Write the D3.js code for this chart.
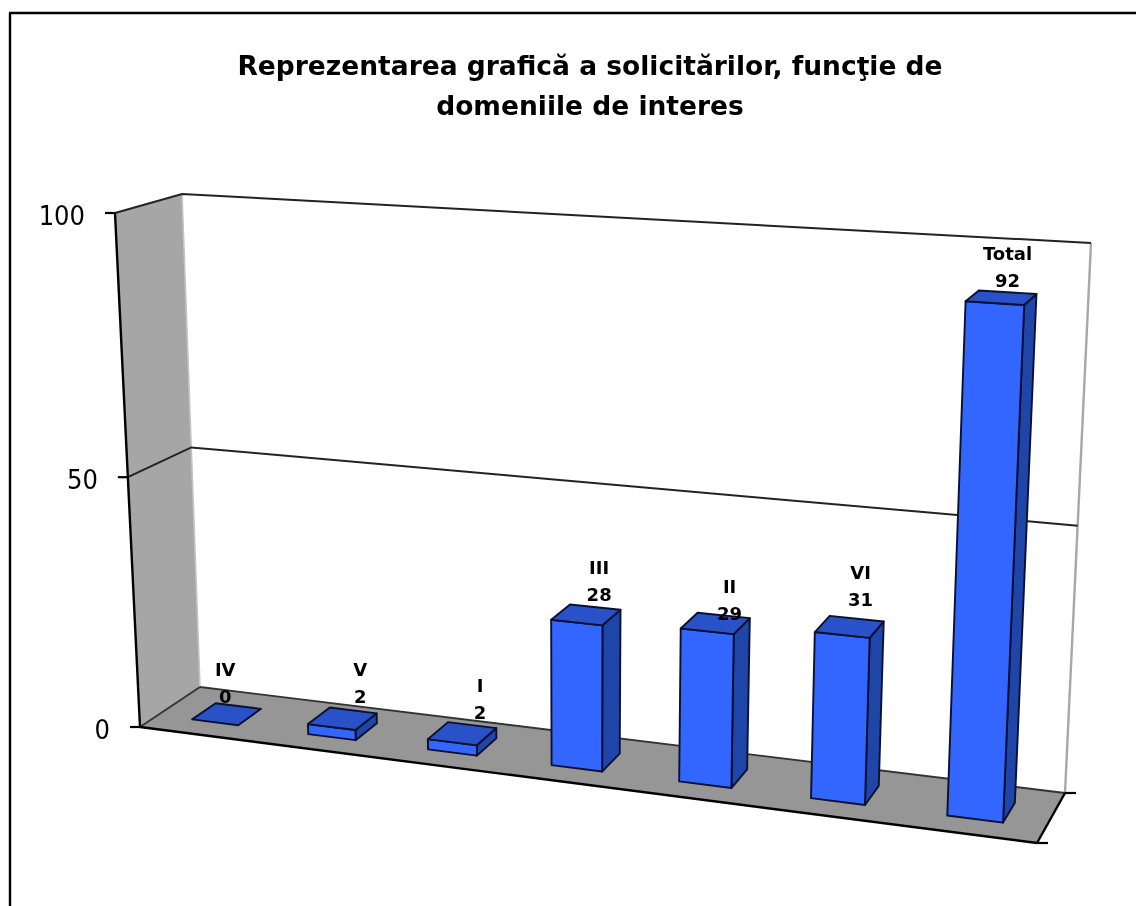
<!DOCTYPE html>
<html><head><meta charset="utf-8">
<script src="https://cdn.jsdelivr.net/npm/d3@7"></script>
<style>html,body{margin:0;padding:0;background:#fff;overflow:hidden}svg{display:block;filter:blur(.5px)}
text{font-family:"DejaVu Sans",sans-serif}</style>
</head><body><div id="c"></div>
<script>
const categories=["IV","V","I","III","II","VI","Total"];
const values=[0,2,2,28,29,31,92];
const yTicks=[0,50,100];
const titleLines=["Reprezentarea grafică a solicitărilor, funcţie de","domeniile de interes"];

const W=1136,H=906;
const labelNudge=[[-13,-3],[7,-7],[8,-6],[4,-6],[6,5],[4,-13],[0,-5]];
const C={ // projected corners of the 3D box: F/B front/back, L/R left/right, 0/1 floor/top
 FL0:[140,727],BL0:[200,687],BR0:[1065,793],FR0:[1037,843],
 FL1:[115,213],BL1:[182,194],BR1:[1091,243],FR1:[1062,269]};
const perspective=1.119;
const band=d3.scaleBand().domain(categories).range([0,1]).paddingInner(.6).paddingOuter(.3);
const warp=t=>t/(perspective-(perspective-1)*t);
const heightFrac=d3.scaleLinear().domain(yTicks).range([0,.486,1]);
const lerp=(a,b,k)=>[a[0]+(b[0]-a[0])*k,a[1]+(b[1]-a[1])*k];
function project(t,z,v){
 const u=warp(t),h=heightFrac(v);
 const f0=lerp(C.FL0,C.FR0,u),b0=lerp(C.BL0,C.BR0,u),f1=lerp(C.FL1,C.FR1,u),b1=lerp(C.BL1,C.BR1,u);
 return lerp(lerp(f0,b0,z),lerp(f1,b1,z),h);
}
const svg=d3.select("#c").append("svg").attr("width",W).attr("height",H);
svg.append("rect").attr("width",W).attr("height",H).attr("fill","#fff");
const line=d3.line();
const poly=(pts,fill,stroke,sw)=>svg.append("path").attr("d",line(pts)+"Z").attr("fill",fill).attr("stroke",stroke||"none").attr("stroke-width",sw||0).attr("stroke-linejoin","round");
const seg=(a,b,stroke,sw)=>svg.append("path").attr("d",line([a,b])).attr("fill","none").attr("stroke",stroke).attr("stroke-width",sw);

// chart frame (only top and left reach the picture)
seg([10,H],[10,13],"#000",2.4);seg([9,13],[W,13],"#000",2.4);

// walls and floor
poly([project(0,0,0),project(0,1,0),project(0,1,100),project(0,0,100)],"#a6a6a6");
poly([project(0,1,0),project(1,1,0),project(1,0,0),project(0,0,0)],"#969696");
seg(project(0,1,0),project(0,1,100),"#c4c4c4",1.6);
seg(project(1,1,0),project(1,1,100),"#a8a8a8",2.4);
// gridlines
yTicks.slice(1).forEach(v=>{
 const p=[project(0,0,v),project(0,1,v),project(1,1,v)];
 svg.append("path").attr("d",line(p)).attr("fill","none").attr("stroke","#222").attr("stroke-width",2);
});
seg(project(0,1,0),project(1,1,0),"#333",1.9);
seg(project(0,0,0),project(0,1,0),"#333",1.8);
seg(project(0,0,0),project(1,0,0),"#000",2.4);
seg(project(1,0,0),project(1,1,0),"#000",2.4);
seg(project(0,0,0),project(0,0,100),"#000",2.4);

// ticks + tick labels
yTicks.forEach(v=>{
 const p=project(0,0,v);
 seg([p[0]-10,p[1]],p,"#000",2.2);
 svg.append("text").attr("x",p[0]-30).attr("y",p[1]+12).attr("text-anchor","end")
  .style("font-family",'"DejaVu Sans Condensed","DejaVu Sans",sans-serif')
  .attr("font-size",27).attr("fill","#000").text(v);
});
[project(1,1,0),project(1,0,0)].forEach(p=>seg(p,[p[0]+11,p[1]],"#000",2.2));

// bars
const zF=.3,zB=.7,edge="#0a1030",ew=1.9;
categories.forEach((c,i)=>{
 const a=band(c),b=a+band.bandwidth(),v=values[i];
 const P=project;
 if(v>0){
  poly([P(b,zF,0),P(b,zB,0),P(b,zB,v),P(b,zF,v)],"#1f45a8",edge,ew);
  poly([P(a,zF,0),P(b,zF,0),P(b,zF,v),P(a,zF,v)],"#3366ff",edge,ew);
 }
 poly([P(a,zF,v),P(b,zF,v),P(b,zB,v),P(a,zB,v)],"#2a52c8",edge,ew);
});

// data labels
categories.forEach((c,i)=>{
 const m=band(c)+band.bandwidth()/2,p=project(m,zB,values[i]),n=labelNudge[i];
 const x=p[0]+n[0],y=p[1]+n[1];
 const g=svg.append("g").attr("text-anchor","middle").attr("font-size",18).attr("font-weight",700).attr("fill","#000");
 g.append("text").attr("x",x).attr("y",y-27).text(c);
 g.append("text").attr("x",x).attr("y",y).text(values[i]);
});

// title
titleLines.forEach((t,i)=>svg.append("text").attr("x",590).attr("y",75+i*40).attr("text-anchor","middle")
 .attr("font-size",26.5).attr("font-weight",700).attr("fill","#000").text(t));
</script></body></html>
